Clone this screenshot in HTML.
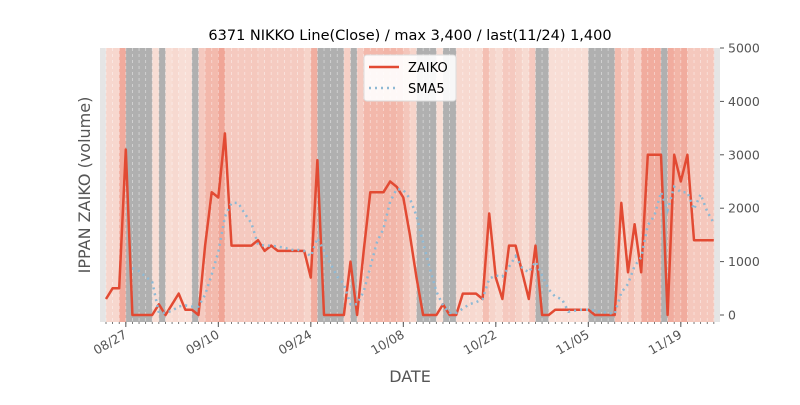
<!DOCTYPE html>
<html><head><meta charset="utf-8">
<style>
body{margin:0;background:#fff;width:800px;height:400px;overflow:hidden;font-family:"Liberation Sans","DejaVu Sans",sans-serif;}
svg text{font-family:"DejaVu Sans","Liberation Sans",sans-serif;}
</style></head>
<body>
<svg id="chart" width="800" height="400" xmlns="http://www.w3.org/2000/svg">
<text x="410" y="40" font-size="14.5" text-anchor="middle" fill="#000">6371 NIKKO Line(Close) / max 3,400 / last(11/24) 1,400</text>
<g id="bands"></g>
<g id="grid"></g>
<g id="lines"></g>
<g id="axes"></g>
<text transform="translate(90,185) rotate(-90)" font-size="16" text-anchor="middle" fill="#555">IPPAN ZAIKO (volume)</text>
<text x="410" y="382" font-size="16" text-anchor="middle" fill="#555">DATE</text>
<g>
<rect x="364" y="55" width="92" height="46" rx="3" fill="#fff" fill-opacity="0.9" stroke="#ddd"/>
<line x1="369" y1="67" x2="399" y2="67" stroke="#e24a33" stroke-width="2.5"/>
<text x="408" y="72" font-size="13" fill="#000">ZAIKO</text>
<line x1="369" y1="88" x2="399" y2="88" stroke="#8eb9d4" stroke-width="2.5" stroke-dasharray="2,4"/>
<text x="408" y="93" font-size="13" fill="#000">SMA5</text>
</g>
</svg>
<script>
const zaiko=[300,500,500,3100,0,0,0,0,200,0,200,400,100,100,0,1300,2300,2200,3400,1300,1300,1300,1300,1400,1200,1300,1200,1200,1200,1200,1200,700,2900,0,0,0,0,1000,0,1200,2300,2300,2300,2500,2400,2200,1500,700,0,0,0,200,0,0,400,400,400,300,1900,700,300,1300,1300,800,300,1300,0,0,100,100,100,100,100,100,0,0,0,0,2100,800,1700,800,3000,3000,3000,0,3000,2500,3000,1400,1400,1400,1400];
const tickIdx=[3,17,31,45,59,73,87];
const tickLabels=["08/27","09/10","09/24","10/08","10/22","11/05","11/19"];
const yTicks=[0,1000,2000,3000,4000,5000];
const NS="http://www.w3.org/2000/svg";
const X0=106,DX=6.607,Y0=315,KY=0.0534,L=100,R=720,T=48,B=322;
const x=i=>X0+DX*i, y=v=>Y0-v*KY;
function mk(t,a,p){const e=document.createElementNS(NS,t);for(const k in a)e.setAttribute(k,a[k]);p.appendChild(e);return e;}
const bands=document.getElementById('bands'),grid=document.getElementById('grid'),lines=document.getElementById('lines'),axes=document.getElementById('axes');
const bg=mk('rect',{x:L,y:T,width:R-L,height:B-T,fill:'#e5e5e5'},bands);


const maxV=Math.max(...zaiko);
function col(v){if(v===0)return '#b0b0b0';const t=v/maxV;const a=[248,224,216],b=[240,165,150];return 'rgb('+a.map((c,k)=>Math.round(c+(b[k]-c)*t)).join(',')+')';}
for(let i=1;i<zaiko.length;i++){
 const r=mk('rect',{x:x(i-1),y:T,width:DX+0.3,height:B-T,fill:col(zaiko[i])},bands);
 
 
}
for(let i=0;i<zaiko.length;i++){
 mk('line',{x1:x(i),y1:T,x2:x(i),y2:B,stroke:'#fff','stroke-opacity':0.5,'stroke-width':0.8,'stroke-dasharray':'3,3'},grid);
 mk('line',{x1:x(i),y1:B,x2:x(i),y2:B+2,stroke:'#555','stroke-width':0.8},axes);
}
let pts=zaiko.map((v,i)=>x(i).toFixed(1)+','+y(v).toFixed(1)).join(' ');
const pl=mk('polyline',{points:pts,fill:'none',stroke:'#e24a33','stroke-width':2.5,'stroke-linejoin':'round'},lines);


let sp=[];
for(let i=4;i<zaiko.length;i++){let s=0;for(let k=i-4;k<=i;k++)s+=zaiko[k];sp.push(x(i).toFixed(1)+','+y(s/5).toFixed(1));}
const sl=mk('polyline',{points:sp.join(' '),fill:'none',stroke:'#8eb9d4','stroke-width':2.5,'stroke-dasharray':'2,4'},lines);


tickIdx.forEach((ti,k)=>{
 mk('line',{x1:x(ti),y1:B,x2:x(ti),y2:B+5,stroke:'#555','stroke-width':1},axes);
 const t=mk('text',{x:x(ti)+2,y:B+15,'font-size':12.5,fill:'#555','text-anchor':'end',transform:'rotate(-30 '+(x(ti)+2)+' '+(B+15)+')'},axes);
 t.textContent=tickLabels[k];
 
 
});
yTicks.forEach(v=>{
 mk('line',{x1:R,y1:y(v),x2:R+4,y2:y(v),stroke:'#555','stroke-width':1},axes);
 const t=mk('text',{x:R+8,y:y(v)+4.5,'font-size':12.5,fill:'#555'},axes);
 t.textContent=v;
 
 
});
</script>
</body></html>
